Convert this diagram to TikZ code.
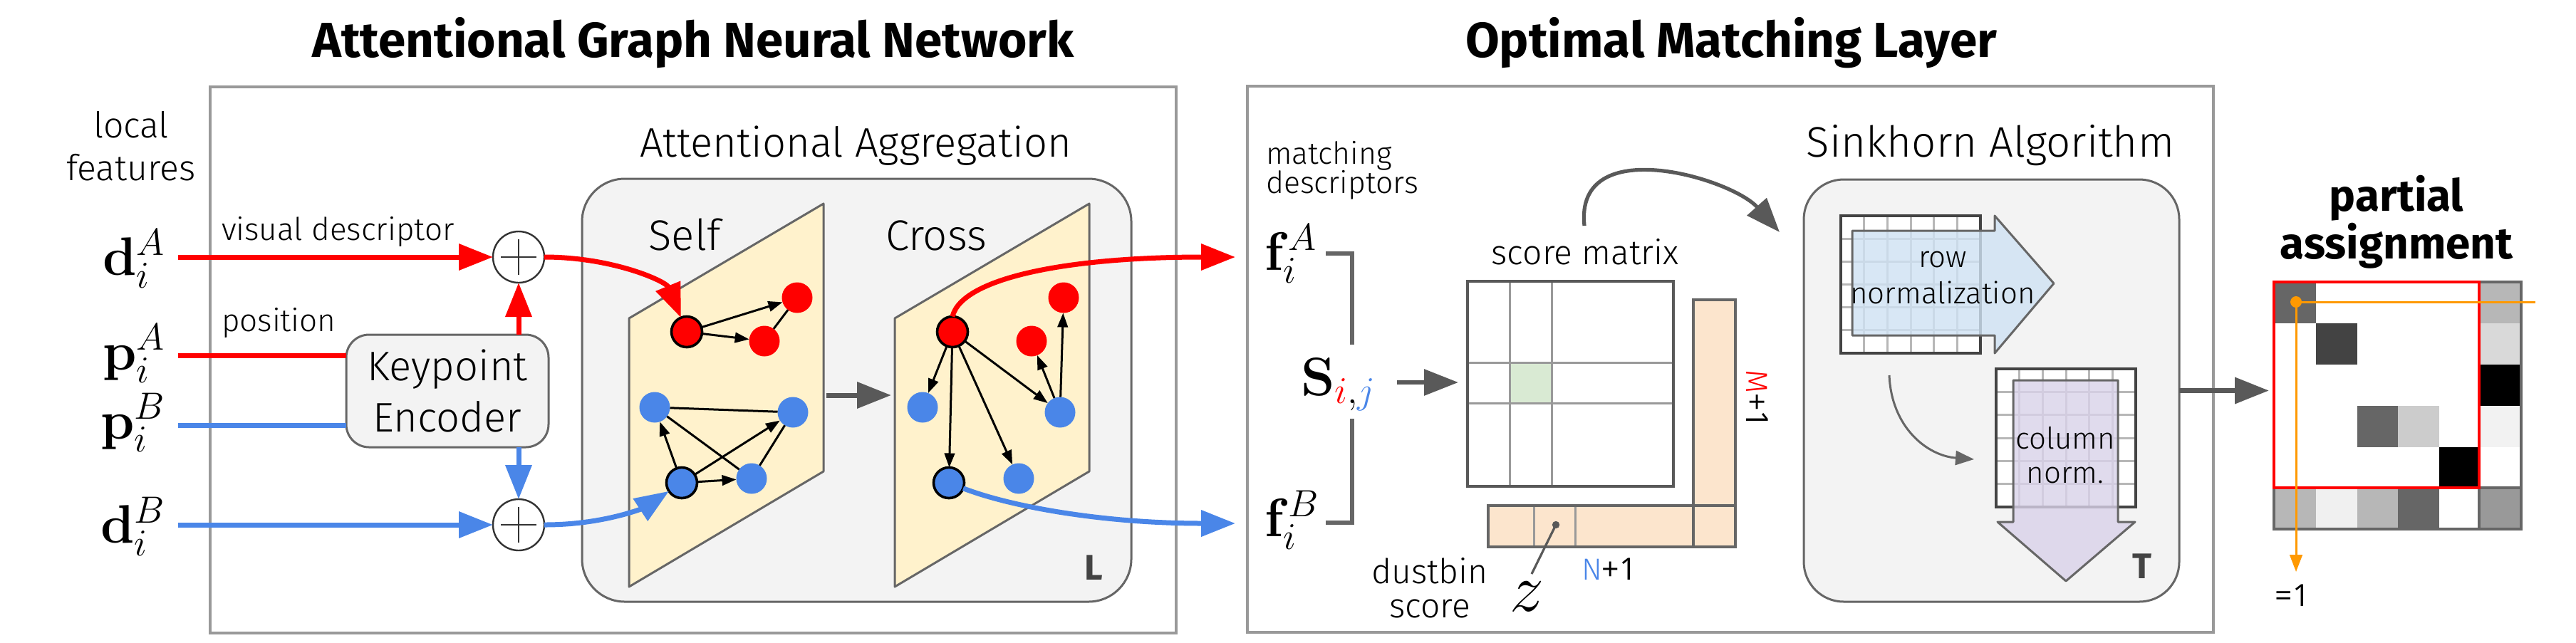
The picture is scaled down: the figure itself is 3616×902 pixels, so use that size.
\RequirePackage{fix-cm}
\documentclass[tikz,border=0pt]{standalone}
\usepackage[no-math]{fontspec}
\setmainfont{Fira Sans Light}[BoldFont={Fira Sans Bold},Numbers=Lining]
\newfontfamily\numf{Open Sans}
\usetikzlibrary{arrows.meta}
\definecolor{myred}{HTML}{FF0000}
\definecolor{myblue}{HTML}{4A86E8}
\definecolor{boxgray}{HTML}{999999}
\definecolor{edgegray}{HTML}{666666}
\definecolor{dgray}{HTML}{595959}
\definecolor{lgfill}{HTML}{F3F3F3}
\definecolor{planefill}{HTML}{FFF2CC}
\definecolor{binfill}{HTML}{FCE5CD}
\definecolor{cellgreen}{HTML}{D9EAD3}
\definecolor{rowfill}{HTML}{CFE2F3}
\definecolor{colfill}{HTML}{D9D2E9}
\definecolor{myorange}{HTML}{FF9900}
\definecolor{gridgray}{HTML}{B7B7B7}
\definecolor{lettergray}{HTML}{434343}
\begin{document}
\begin{tikzpicture}[x=0.25pt,y=-0.25pt,
  every node/.style={inner sep=0pt,outer sep=0pt},
  titlef/.style={font=\fontsize{17.3}{20}\selectfont\bfseries},
  lab/.style={font=\fontsize{12.5}{15}\selectfont},
  smalllab/.style={font=\fontsize{11}{13}\selectfont},
  midlab/.style={font=\fontsize{14.5}{17}\selectfont},
  mathlab/.style={font=\fontsize{19}{22}\selectfont},
  numlab/.style={font=\fontsize{10.7}{13}\selectfont},
  bigletter/.style={font=\fontsize{12.5}{15}\selectfont\bfseries, text=lettergray},
  outerbox/.style={draw=boxgray, line width=0.9pt},
  rbox/.style={draw=edgegray, fill=lgfill, line width=0.75pt, rounded corners=15pt},
  plane/.style={draw=edgegray, fill=planefill, line width=0.75pt, line join=round},
  redline/.style={draw=myred, line width=1.75pt},
  blueline/.style={draw=myblue, line width=1.75pt},
  redarr/.style={redline, -{Triangle[length=12pt,width=9pt]}},
  bluearr/.style={blueline, -{Triangle[length=12pt,width=9pt]}},
  grayarr/.style={draw=dgray, line width=1.75pt, -{Triangle[length=12pt,width=9pt]}},
  gnode/.style={circle, minimum size=10.75pt},
  rn/.style={gnode, fill=myred},
  bn/.style={gnode, fill=myblue},
  bigrn/.style={rn, draw=black, line width=0.9pt},
  bigbn/.style={bn, draw=black, line width=0.9pt},
  garr/.style={line width=0.75pt, -{Triangle[length=5pt,width=3.6pt]}},
  gline/.style={line width=0.75pt},
  gridl/.style={draw=gridgray, line width=0.75pt},
  plusn/.style={circle, draw=black!80, fill=white, line width=0.6pt, minimum size=18pt,
    path picture={\draw[line width=0.4pt] ([xshift=-6.25pt]path picture bounding box.center) -- ([xshift=6.25pt]path picture bounding box.center) ([yshift=-6.25pt]path picture bounding box.center) -- ([yshift=6.25pt]path picture bounding box.center);}},
]
\useasboundingbox (0,0) rectangle (3616,902);
% titles
\node[titlef,anchor=base] (t1) at (973,80) {Attentional Graph Neural Network};
\node[titlef,anchor=base] (t2) at (2430,80) {Optimal Matching Layer};
% outer boxes
\node[outerbox,minimum width=339pt,minimum height=191.75pt] (agnn) at (973,505.5) {};
\node[outerbox,minimum width=339pt,minimum height=191.75pt] (oml) at (2429,504.5) {};
% local features
\node[lab,anchor=base] (lf1) at (184,193) {local};
\node[lab,anchor=base] (lf2) at (184,253) {features};
\node[mathlab,anchor=base east] (dA) at (233,386) {$\mathbf{d}_i^A$};
\node[mathlab,anchor=base east] (pA) at (233,519) {$\mathbf{p}_i^A$};
\node[mathlab,anchor=base east] (pB) at (233,616) {$\mathbf{p}_i^B$};
\node[mathlab,anchor=base east] (dB) at (233,762) {$\mathbf{d}_i^B$};
\node[smalllab,anchor=base west] (vd) at (311,337) {visual descriptor};
\node[smalllab,anchor=base west] (pos) at (311,465) {position};
% keypoint encoder
\node[draw=edgegray, fill=lgfill, line width=0.75pt, rounded corners=8pt, minimum width=71pt, minimum height=39.5pt, align=center, font=\fontsize{14.5}{18}\selectfont] (KE) at (628,549) {Keypoint\\Encoder};
\node[plusn] (plusA) at (728,361) {};
\node[plusn] (plusB) at (728,737) {};
\coordinate (dAs) at (250,361);
\coordinate (pAs) at (250,499);
\coordinate (pBs) at (250,597);
\coordinate (dBs) at (250,737);
\draw[redarr] (dAs) -- (plusA);
\draw[redline] (pAs) -- (KE.west |- pAs);
\draw[blueline] (pBs) -- (KE.west |- pBs);
\draw[bluearr] (dBs) -- (plusB);
\draw[redarr] (KE.north -| plusA) -- (plusA);
\draw[bluearr] (KE.south -| plusB) -- (plusB);
% attentional aggregation
\node[rbox,minimum width=192.75pt,minimum height=148.5pt] (aa) at (1202.5,548) {};
\node[midlab,anchor=base] (aat) at (1201,220) {Attentional Aggregation};
\draw[plane] (883,447) -- (1156,286) -- (1156,662) -- (883,824) -- cycle;
\draw[plane] (1256,447) -- (1529,286) -- (1529,662) -- (1256,824) -- cycle;
\node[font=\fontsize{15}{18}\selectfont,anchor=base] (selft) at (961,351) {Self};
\node[font=\fontsize{15}{18}\selectfont,anchor=base] (crosst) at (1314,351) {Cross};
\coordinate (pl1) at (1160,555);
\coordinate (pl2) at (1251,555);
\draw[grayarr] (pl1) -- (pl2);
\node[bigletter,anchor=base] (Lt) at (1535,814) {L};
% self graph
\node[bigrn] (sR0) at (964,466) {};
\node[rn] (sR1) at (1119,418) {};
\node[rn] (sR2) at (1073,479) {};
\node[bn] (sB1) at (919,572) {};
\node[bn] (sB2) at (1113,579) {};
\node[bigbn] (sB0) at (957,678) {};
\node[bn] (sB3) at (1055,672) {};
\draw[garr] (sR0) -- (sR1);
\draw[garr] (sR0) -- (sR2);
\draw[gline] (sR2) -- (sR1);
\draw[gline] (sB1) -- (sB2);
\draw[gline] (sB1) -- (sB3);
\draw[gline] (sB3) -- (sB2);
\draw[garr] (sB0) -- (sB1);
\draw[garr] (sB0) -- (sB2);
\draw[garr] (sB0) -- (sB3);
% cross graph
\node[bigrn] (cR0) at (1337,466) {};
\node[rn] (cR1) at (1493,418) {};
\node[rn] (cR2) at (1448,479) {};
\node[bn] (cB1) at (1295,572) {};
\node[bn] (cB2) at (1488,579) {};
\node[bigbn] (cB0) at (1332,678) {};
\node[bn] (cB3) at (1430,672) {};
\draw[garr] (cR0) -- (cB1);
\draw[garr] (cR0) -- (cB0);
\draw[garr] (cR0) -- (cB3);
\draw[garr] (cR0) -- (cB2);
\draw[garr] (cB2) -- (cR2);
\draw[garr] (cB2) -- (cR1);
% curves
\draw[redarr] (plusA.east) .. controls (860,361) and (935,395) .. (sR0);
\draw[bluearr] (plusB.east) .. controls (850,737) and (905,712) .. (sB0);
\coordinate (fAt) at (1734,361);
\coordinate (fBt) at (1734,735);
\draw[redarr] (cR0.north) .. controls (1350,390) and (1500,361) .. (fAt);
\draw[bluearr] (cB0) .. controls (1420,712) and (1550,735) .. (fBt);
% optimal matching layer
\node[font=\fontsize{10.7}{12}\selectfont,anchor=base west] (md1) at (1777,230) {matching};
\node[font=\fontsize{10.7}{12}\selectfont,anchor=base west] (md2) at (1777,271) {descriptors};
\node[mathlab,anchor=base west] (fA) at (1775,379) {$\mathbf{f}_i^A$};
\node[mathlab,anchor=base west] (fB) at (1775,753) {$\mathbf{f}_i^B$};
\node[mathlab,anchor=base west] (S) at (1826,555) {$\mathbf{S}_{{\color{myred}i},{\color{myblue}j}}$};
\draw[draw=edgegray,line width=1.4pt] (1861,356) -- (1898,356) -- (1898,484);
\draw[draw=edgegray,line width=1.4pt] (1898,588) -- (1898,734) -- (1861,734);
\coordinate (Ss) at (1961,537);
\coordinate (Se) at (2047,537);
\draw[draw=dgray, line width=1.5pt, -{Triangle[length=12pt,width=9pt]}] (Ss) -- (Se);
% score matrix
\node[font=\fontsize{12}{14}\selectfont,anchor=base] (smt) at (2225,371) {score matrix};
\fill[cellgreen] (2119,509) rectangle (2178,566);
\draw[draw=boxgray,line width=0.75pt] (2119,395) -- (2119,683) (2178,395) -- (2178,683) (2060,509) -- (2349,509) (2060,566) -- (2349,566);
\node[draw=dgray, line width=0.9pt, minimum width=72.25pt, minimum height=72pt] (SM) at (2204.5,539) {};
\fill[binfill] (2377,421) rectangle (2436,768);
\fill[binfill] (2089,710) rectangle (2436,768);
\draw[draw=boxgray,line width=0.75pt] (2153,710) -- (2153,768) (2211,710) -- (2211,768);
\draw[draw=edgegray, line width=0.9pt] (2377,421) rectangle (2436,768) (2089,710) rectangle (2436,768);
\node[numlab,rotate=-90] (m1) at (2467,560) {{\color{myred}M}{\numf +1}};
\node[numlab,anchor=base] (n1) at (2259,814) {{\color{myblue}N}{\numf +1}};
\node[font=\fontsize{12}{14}\selectfont,anchor=base] (ds1) at (2007,819) {dustbin};
\node[font=\fontsize{12}{14}\selectfont,anchor=base] (ds2) at (2007,867) {score};
\node[font=\fontsize{24}{28}\selectfont] (z) at (2143,838) {$z$};
\node[circle, fill=dgray, minimum size=2.6pt] (zdot) at (2184,737) {};
\coordinate (zl) at (2150,806);
\draw[draw=dgray, line width=0.8pt] (zdot.center) -- (zl);
\coordinate (cs) at (2224,317);
\coordinate (ce) at (2498,326);
\draw[draw=dgray, line width=1.3pt, -{Triangle[length=12pt,width=9pt]}] (cs) .. controls (2210,185) and (2430,250) .. (ce);
% sinkhorn
\node[rbox,minimum width=131.75pt,minimum height=148.25pt,rounded corners=14pt] (sk) at (2795.5,548.5) {};
\node[font=\fontsize{15}{18}\selectfont,anchor=base] (skt) at (2794,220) {Sinkhorn Algorithm};
\fill[white] (2584,303) rectangle (2780,496);
\foreach \k in {1,...,5} {
  \draw[gridl] ({2584+\k*32.67},303) -- ({2584+\k*32.67},496);
  \draw[gridl] (2584,{303+\k*32.17}) -- (2780,{303+\k*32.17});
}
\draw[draw=lettergray,line width=1pt] (2584,303) rectangle (2780,496);
\draw[draw=edgegray,fill=rowfill,fill opacity=0.8,line width=0.75pt,line join=round] (2600,324) -- (2800,324) -- (2800,303) -- (2883,398) -- (2800,496) -- (2800,471) -- (2600,471) -- cycle;
\node[font=\fontsize{10.5}{12}\selectfont,anchor=base] (rw1) at (2727,375) {row};
\node[font=\fontsize{10.5}{12}\selectfont,anchor=base] (rw2) at (2727,426) {normalization};
\fill[white] (2802,518) rectangle (2998,712);
\foreach \k in {1,...,5} {
  \draw[gridl] ({2802+\k*32.67},518) -- ({2802+\k*32.67},712);
  \draw[gridl] (2802,{518+\k*32.33}) -- (2998,{518+\k*32.33});
}
\draw[draw=lettergray,line width=1pt] (2802,518) rectangle (2998,712);
\draw[draw=edgegray,fill=colfill,fill opacity=0.8,line width=0.75pt,line join=round] (2826,534) -- (2973,534) -- (2973,733) -- (2997,733) -- (2900,816) -- (2804,733) -- (2826,733) -- cycle;
\node[font=\fontsize{10.5}{12}\selectfont,anchor=base] (cl1) at (2899,630) {column};
\node[font=\fontsize{10.5}{12}\selectfont,anchor=base] (cl2) at (2899,678) {norm.};
\coordinate (ia) at (2652,527);
\coordinate (ib) at (2771,645);
\draw[draw=edgegray,line width=0.75pt,-{Triangle[length=6.5pt,width=5pt]}] (ia) .. controls (2655,600) and (2705,640) .. (ib);
\node[bigletter,anchor=base] (Tt) at (3007,812) {T};
\coordinate (paIn) at (3185,548.5);
\draw[grayarr] (sk.east) -- (paIn);
% partial assignment
\node[font=\fontsize{15.5}{18}\selectfont\bfseries,anchor=base] (pa1) at (3364,296) {partial};
\node[font=\fontsize{15.5}{18}\selectfont\bfseries,anchor=base] (pa2) at (3364,363) {assignment};
\fill[white] (3192,396) rectangle (3539,743);
\fill[black!60] (3192,396) rectangle (3251,454);
\fill[lettergray] (3251,454) rectangle (3309,512);
\fill[black!60] (3309,570) rectangle (3366,628);
\fill[black!20] (3366,570) rectangle (3424,628);
\fill[black] (3424,628) rectangle (3480,685);
\fill[gridgray] (3480,396) rectangle (3539,454);
\fill[black!15] (3480,454) rectangle (3539,512);
\fill[black] (3480,512) rectangle (3539,570);
\fill[black!5] (3480,570) rectangle (3539,628);
\fill[gridgray] (3192,685) rectangle (3251,743);
\fill[black!6] (3251,685) rectangle (3309,743);
\fill[gridgray] (3309,685) rectangle (3366,743);
\fill[black!60] (3366,685) rectangle (3424,743);
\fill[boxgray] (3480,685) rectangle (3539,743);
\node[draw=edgegray, line width=1pt, minimum width=86.75pt, minimum height=86.75pt] (PA) at (3365.5,569.5) {};
\draw[draw=edgegray, line width=1pt] (3480,396) -- (3480,743) (3192,685) -- (3539,685);
\draw[draw=myred, line width=1.1pt] (3192,396) rectangle (3480,685);
\node[circle, fill=myorange, minimum size=4pt] (odot) at (3223,424) {};
\coordinate (oend) at (3559,424);
\coordinate (otip) at (3223,803);
\draw[draw=myorange, line width=0.75pt] (odot.center) -- (oend);
\draw[draw=myorange, line width=0.75pt, -{Triangle[length=6pt,width=4.4pt]}] (odot.center) -- (otip);
\node[numlab,anchor=base] (eq1) at (3218,851) {\numf =1};
\end{tikzpicture}
\end{document}
